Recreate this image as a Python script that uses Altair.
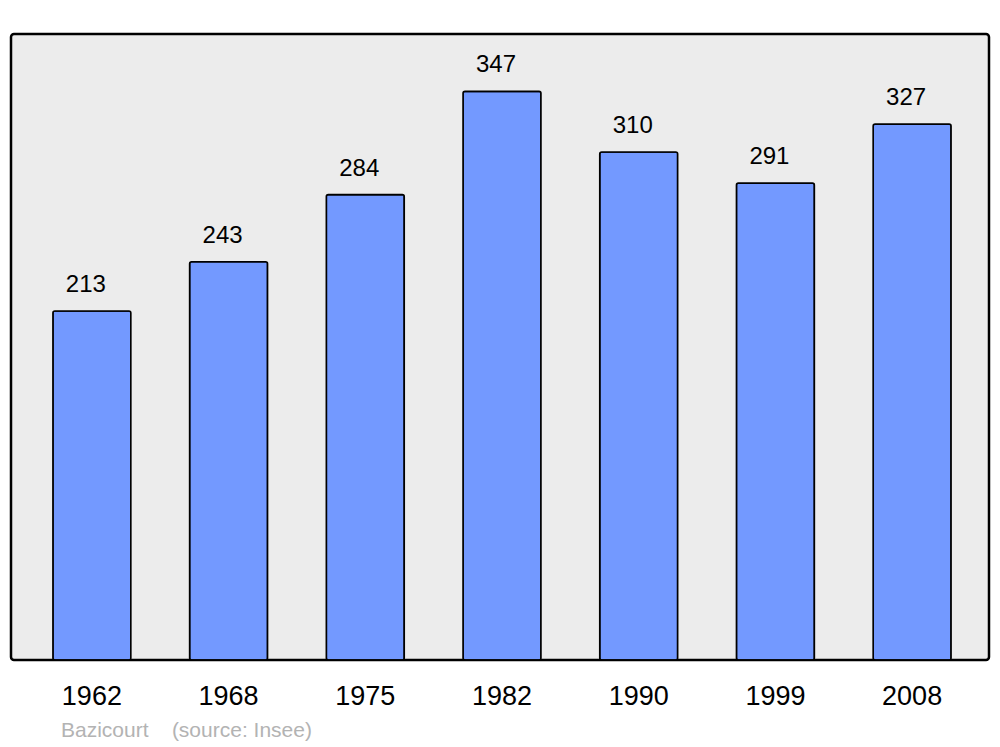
import altair as alt
import pandas as pd

years = ["1962", "1968", "1975", "1982", "1990", "1999", "2008"]
population = [213, 243, 284, 347, 310, 291, 327]
footer_text = ["Bazicourt\u00a0\u00a0\u00a0\u00a0(source: Insee)"]

df = pd.DataFrame({"year": years, "pop": population})

x = alt.X("year:N", sort=years, title=None,
          scale=alt.Scale(paddingInner=0.43, paddingOuter=0.292, align=0.525),
          axis=alt.Axis(labelAngle=0, labelFontSize=27, labelColor="black",
                        labelFont="Liberation Sans", ticks=False, domain=False,
                        labelPadding=23, labelFontWeight="normal"))
y = alt.Y("pop:Q", title=None, scale=alt.Scale(domain=[0, 382], nice=False),
          axis=None)

bars = alt.Chart(df).mark_bar(
    color="#7399ff", stroke="black", strokeWidth=1.6, cornerRadius=2
).encode(x=x, y=y)

labels = alt.Chart(df).mark_text(
    baseline="alphabetic", dy=-19, dx=-6, fontSize=24,
    font="Liberation Sans", color="black"
).encode(x=x, y=y, text="pop:Q")

footer = alt.Chart(pd.DataFrame({"t": footer_text})).mark_text(
    align="left", baseline="alphabetic", fontSize=21,
    font="Liberation Sans", color="#b3b3b3"
).encode(x=alt.value(50), y=alt.value(703), text="t:N")

chart = alt.layer(bars, labels, footer).properties(
    width=978, height=626,
    autosize=alt.AutoSizeParams(type="none"),
    padding={"left": 3, "top": 26, "right": 3, "bottom": 86},
    background="white",
).configure_view(
    fill="#ececec", stroke="black", strokeWidth=2.5, cornerRadius=3
)

chart.save("out.html", embed_options={"renderer": "svg", "actions": False})
